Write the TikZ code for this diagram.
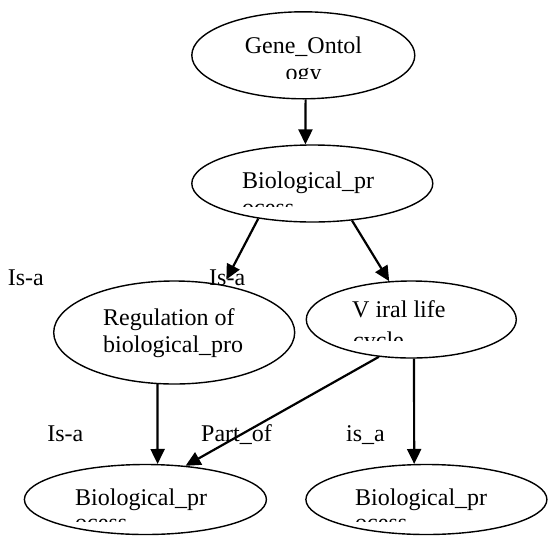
\documentclass[tikz,border=0pt]{standalone}
\usepackage{fontspec}
\setmainfont{Liberation Serif}
\usetikzlibrary{shapes.geometric,arrows.meta}
\begin{document}
\begin{tikzpicture}[x=1pt,y=-1pt,
  oval/.style={draw, ellipse, line width=1.4pt, inner sep=0pt},
  txt/.style={inner sep=0pt, font=\fontsize{24}{27}\selectfont},
  arr/.style={line width=2.2pt, -{Triangle[length=15pt,width=14pt]}}]
\fill[white] (0,0) rectangle (548,536);
\useasboundingbox (0,0) rectangle (548,536);
% ellipses
\node[oval, minimum width=223pt, minimum height=87pt] (gene) at (303.3,55.3) {};
\node[oval, minimum width=241pt, minimum height=77pt] (bio) at (312.3,183.5) {};
\node[oval, minimum width=241pt, minimum height=103pt] (reg) at (174.2,332.5) {};
\node[oval, minimum width=210pt, minimum height=77pt] (viral) at (411.3,319.5) {};
\node[oval, minimum width=242pt, minimum height=70pt] (bl) at (145.4,499.5) {};
\node[oval, minimum width=241pt, minimum height=70pt] (br) at (426.4,499.5) {};
% texts
\node[txt, anchor=base] (gt1) at (303.5,53) {Gene\_Ontol};
\begin{scope}\clip (190,60) rectangle (420,78);
\node[txt, anchor=base] (gt2) at (303.5,80) {ogy};
\end{scope}
\node[txt, anchor=base west] (bt1) at (242,188) {Biological\_pr};
\begin{scope}\clip (190,195) rectangle (430,206);
\node[txt, anchor=base west] (bt2) at (242,215) {ocess};
\end{scope}
\node[txt, anchor=base west] (rt1) at (103,325) {Regulation of};
\node[txt, anchor=base west] (rt2) at (103,352) {biological\_pro};
\node[txt, anchor=base west] (vt1) at (352,317) {V iral life};
\begin{scope}\clip (300,325) rectangle (520,340);
\node[txt, anchor=base west] (vt2) at (353,348) {cycle};
\end{scope}
\node[txt, anchor=base west] (lt1) at (75,505) {Biological\_pr};
\begin{scope}\clip (20,510) rectangle (270,521);
\node[txt, anchor=base west] (lt2) at (75,530) {ocess};
\end{scope}
\node[txt, anchor=base west] (rt1b) at (355,505) {Biological\_pr};
\begin{scope}\clip (300,510) rectangle (548,521);
\node[txt, anchor=base west] (rt2b) at (355,530) {ocess};
\end{scope}
% edge labels
\node[txt, anchor=base west] (l1) at (7.7,285.4) {Is-a};
\node[txt, anchor=base west] (l2) at (209,285.4) {Is-a};
\node[txt, anchor=base west] (l3) at (47.2,441.6) {Is-a};
\node[txt, anchor=base west] (l4) at (201,441.6) {Part\_of};
\node[txt, anchor=base west] (l5) at (346,441.6) {is\_a};
% connectors
\draw[arr] (gene.273) -- (bio.100);
\draw[arr, shorten >=6pt] (bio.213) -- (reg.44);
\draw[arr] (bio.317) -- (viral.120);
\draw[arr] (reg.252) -- (bl.71);
\draw[arr] (viral.229) -- (bl.40);
\draw[arr] (viral.274) -- (br.109);
\end{tikzpicture}
\end{document}
